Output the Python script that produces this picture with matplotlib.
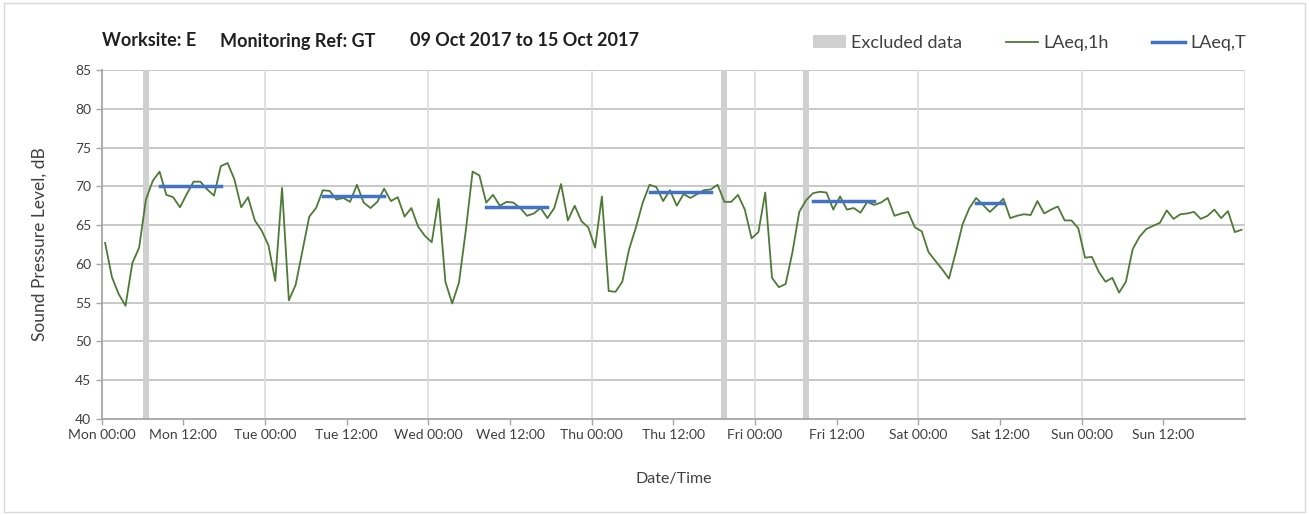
import numpy as np
import matplotlib
matplotlib.use("Agg")
import matplotlib.pyplot as plt
from matplotlib.patches import Patch, Rectangle
from matplotlib.lines import Line2D

plt.rcParams['font.family'] = ['Lato', 'DejaVu Sans']

# hourly LAeq,1h values, Mon 00:00 .. Sun 23:00
laeq_1h = [
    62.7, 58.3, 56.1, 54.6, 60.1, 62.1, 68.3, 70.7, 71.9, 68.9, 68.6, 67.3,
    69.0, 70.6, 70.6, 69.6, 68.8, 72.6, 73.0, 70.9, 67.3, 68.6, 65.6, 64.3,
    62.4, 57.8, 69.8, 55.3, 57.3, 61.7, 66.1, 67.2, 69.5, 69.4, 68.3, 68.5,
    68.0, 70.2, 67.9, 67.2, 68.0, 69.7, 68.1, 68.6, 66.1, 67.2, 64.8, 63.6,
    62.8, 68.4, 57.7, 54.9, 57.6, 64.3, 71.9, 71.4, 67.9, 68.9, 67.5, 68.0,
    67.9, 67.2, 66.2, 66.5, 67.2, 65.9, 67.2, 70.3, 65.6, 67.5, 65.5, 64.7,
    62.1, 68.7, 56.5, 56.4, 57.7, 61.9, 64.7, 67.9, 70.2, 69.9, 68.1, 69.5,
    67.5, 69.0, 68.5, 69.0, 69.5, 69.6, 70.2, 68.0, 68.0, 68.9, 67.0, 63.3,
    64.1, 69.2, 58.2, 57.0, 57.4, 61.5, 66.7, 68.2, 69.1, 69.3, 69.2, 67.0,
    68.7, 67.0, 67.2, 66.6, 68.0, 67.6, 67.9, 68.5, 66.2, 66.5, 66.7, 64.7,
    64.2, 61.5, 60.4, 59.3, 58.1, 61.5, 65.1, 67.2, 68.5, 67.6, 66.7, 67.5,
    68.4, 65.9, 66.2, 66.4, 66.3, 68.1, 66.5, 67.0, 67.4, 65.6, 65.6, 64.6,
    60.8, 60.9, 59.0, 57.7, 58.2, 56.3, 57.7, 61.9, 63.5, 64.5, 64.9, 65.3,
    66.9, 65.8, 66.4, 66.5, 66.7, 65.8, 66.2, 67.0, 65.9, 66.8, 64.1, 64.4,
]

# LAeq,T periods: (first hour, last hour, level)
laeq_t_start = [8, 32, 56, 80, 104, 128]
laeq_t_end = [17, 41, 65, 89, 113, 132]
laeq_t_level = [70.1, 68.8, 67.3, 69.3, 68.1, 67.8]

# excluded hours
excluded_hours = [6, 91, 103]

days = ['Mon', 'Tue', 'Wed', 'Thu', 'Fri', 'Sat', 'Sun']
tick_labels = [f'{d} {t}' for d in days for t in ['00:00', '12:00']]

fig = plt.figure(figsize=(13.09, 5.15), dpi=100)
ax = fig.add_axes([0.0777, 0.1864, 0.8734, 0.6777])

hours = np.arange(len(laeq_1h)) + 0.5

for h in excluded_hours:
    ax.axvspan(h + 0.07, h + 0.93, color='#d0d0d0', lw=0, zorder=1)

ax.plot(hours, laeq_1h, color='#4e7a36', lw=1.3, zorder=3)

for s, e, lv in zip(laeq_t_start, laeq_t_end, laeq_t_level):
    ax.plot([s + 0.5, e + 0.5], [lv, lv], color='#4472c4', lw=2.5, zorder=4)

ax.set_xlim(0, 168)
ax.set_ylim(40, 85)
ax.set_yticks(range(40, 86, 5))
ax.set_xticks(range(0, 168, 12))
ax.set_xticklabels(tick_labels)
ax.tick_params(axis='both', colors='#a6a6a6', labelcolor='#404040', labelsize=10,
               length=4, width=1)

for y in range(45, 86, 5):
    ax.axhline(y, color='#c8c8c8', lw=1.4, zorder=0)
for x in range(24, 169, 24):
    ax.axvline(x, color='#dcdcdc', lw=1.2, zorder=0)

for side in ['top', 'right']:
    ax.spines[side].set_visible(False)
for side in ['left', 'bottom']:
    ax.spines[side].set_color('#a6a6a6')
    ax.spines[side].set_linewidth(1.3)

ax.set_ylabel('Sound Pressure Level, dB', fontsize=12.5, color='#404040', labelpad=20)
ax.set_xlabel('Date/Time', fontsize=11.5, color='#404040', labelpad=22)

title_y = 1 - 41 / 515
fig.text(102 / 1309, title_y, 'Worksite: E', fontsize=13, fontweight='bold',
         va='center', color='#202020')
fig.text(220 / 1309, title_y, 'Monitoring Ref: GT', fontsize=13, fontweight='bold',
         va='center', color='#202020')
fig.text(410 / 1309, title_y, '09 Oct 2017 to 15 Oct 2017', fontsize=13,
         fontweight='bold', va='center', color='#202020')

handles = [Patch(facecolor='#d0d0d0', edgecolor='none', label='Excluded data'),
           Line2D([], [], color='#4e7a36', lw=1.3, label='LAeq,1h'),
           Line2D([], [], color='#4472c4', lw=2.5, label='LAeq,T')]
fig.legend(handles=handles, ncol=3, frameon=False, fontsize=13,
           loc='center right', bbox_to_anchor=(1262 / 1309, 1 - 43 / 515),
           handlelength=1.8, handletextpad=0.3, columnspacing=2.4, labelcolor='#404040')

fig.patches.append(Rectangle((0.003, 0.005), 0.994, 0.99, transform=fig.transFigure,
                             fill=False, edgecolor='#d9d9d9', lw=1))

fig.savefig('out.png', dpi=100)
